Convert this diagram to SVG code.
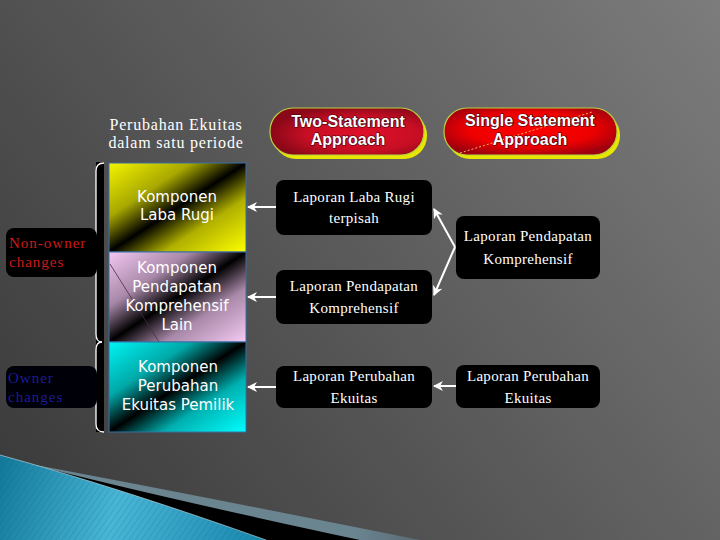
<svg xmlns="http://www.w3.org/2000/svg" width="720" height="540" viewBox="0 0 720 540">
  <defs>
    <linearGradient id="bg" gradientUnits="userSpaceOnUse" x1="0" y1="540" x2="720" y2="0">
      <stop offset="0" stop-color="#383838"/>
      <stop offset="1" stop-color="#7c7c7c"/>
    </linearGradient>
    <linearGradient id="gYellow" x1="0" y1="0" x2="1" y2="1">
      <stop offset="0" stop-color="#f4f400"/>
      <stop offset="0.3" stop-color="#a8a800"/>
      <stop offset="0.5" stop-color="#000000"/>
      <stop offset="0.7" stop-color="#b0b000"/>
      <stop offset="1" stop-color="#ffff00"/>
    </linearGradient>
    <linearGradient id="gPink" x1="0" y1="0" x2="1" y2="1">
      <stop offset="0" stop-color="#f2c8f2"/>
      <stop offset="0.3" stop-color="#a888a8"/>
      <stop offset="0.5" stop-color="#000000"/>
      <stop offset="0.7" stop-color="#a888a8"/>
      <stop offset="1" stop-color="#f4cbf4"/>
    </linearGradient>
    <linearGradient id="gCyan" x1="0" y1="0" x2="1" y2="1">
      <stop offset="0" stop-color="#00f4f4"/>
      <stop offset="0.3" stop-color="#00a8a8"/>
      <stop offset="0.5" stop-color="#000000"/>
      <stop offset="0.7" stop-color="#00b0b0"/>
      <stop offset="1" stop-color="#00ffff"/>
    </linearGradient>
    <radialGradient id="gRed1" cx="0.6" cy="0.55" r="0.6">
      <stop offset="0" stop-color="#e0102a"/>
      <stop offset="0.6" stop-color="#c80e24"/>
      <stop offset="1" stop-color="#8a0818"/>
    </radialGradient>
    <radialGradient id="gRed2" cx="0.5" cy="0.45" r="0.6">
      <stop offset="0" stop-color="#ff0000"/>
      <stop offset="0.6" stop-color="#ee0000"/>
      <stop offset="1" stop-color="#9a0010"/>
    </radialGradient>
    <linearGradient id="gBlue" gradientUnits="userSpaceOnUse" x1="0" y1="470" x2="260" y2="540">
      <stop offset="0" stop-color="#137a9c"/>
      <stop offset="0.45" stop-color="#49b6d6"/>
      <stop offset="1" stop-color="#1a88ae"/>
    </linearGradient>
    <linearGradient id="gBand" gradientUnits="userSpaceOnUse" x1="100" y1="0" x2="420" y2="0">
      <stop offset="0" stop-color="#6a8490"/>
      <stop offset="0.8" stop-color="#6a8490"/>
      <stop offset="1" stop-color="#5a6a72"/>
    </linearGradient>
    <pattern id="stripes" patternUnits="userSpaceOnUse" width="5" height="5" patternTransform="rotate(35)">
      <rect width="5" height="5" fill="none"/>
      <line x1="0" y1="0" x2="0" y2="5" stroke="#0a5a78" stroke-width="1" stroke-opacity="0.35"/>
    </pattern>
    <marker id="ah" viewBox="0 0 10 10" refX="9" refY="5" markerWidth="5" markerHeight="5" orient="auto">
      <path d="M0,0 L10,5 L0,10 L3,5 Z" fill="#ffffff"/>
    </marker>
    <style>
      .komp { stroke: #3a6ea5; stroke-width: 1; }
      .ktxt { font-family: "DejaVu Sans", sans-serif; font-size: 15px; fill: #ffffff; text-anchor: middle; }
      .lap { fill: #000000; }
      .ltxt { font-family: "Liberation Serif", serif; font-size: 15px; fill: #ffffff; text-anchor: middle; letter-spacing: 0.3px; }
      .ptxt { font-family: "Liberation Sans", sans-serif; font-size: 16px; font-weight: bold; fill: #ffffff; text-anchor: middle; stroke: #3a0008; stroke-width: 1.2px; paint-order: stroke; }
      .pill { stroke: #b8d040; stroke-width: 1.2; }
      .shadow { fill: #e6e600; }
      .conn { stroke: #ffffff; stroke-width: 2; fill: none; marker-end: url(#ah); }
      .brace { stroke: #ffffff; stroke-width: 1.3; fill: none; }
    </style>
  </defs>

  <!-- background -->
  <rect x="0" y="0" width="720" height="540" fill="url(#bg)"/>
  <g id="swoosh">
    <path d="M30,464 Q180,492 420,540 L0,540 Z" fill="url(#gBand)"/>
    <path d="M30,464 Q150,495 360,540 L0,540 Z" fill="#000000"/>
    <path d="M0,455 Q120,488 266,540 L0,540 Z" fill="url(#gBlue)"/>
    <path d="M0,455 Q120,488 266,540 L0,540 Z" fill="url(#stripes)"/>
    <path d="M0,455 Q120,488 266,540" fill="none" stroke="#cfeaf2" stroke-width="0.8" stroke-opacity="0.7"/>
  </g>

  <!-- heading -->
  <g id="heading">
    <text x="176" y="130" font-family="Liberation Serif, serif" font-size="16" fill="#ffffff" text-anchor="middle" letter-spacing="0.8">Perubahan Ekuitas</text>
    <text x="176" y="148" font-family="Liberation Serif, serif" font-size="16" fill="#ffffff" text-anchor="middle" letter-spacing="0.8">dalam satu periode</text>
  </g>

  <!-- bracket -->
  <g id="bracket">
    <rect x="96" y="162" width="8" height="270" fill="#000000"/>
    <path class="brace" d="M104,163 Q96,163 96,171 L96,243 Q96,250 91,251 Q96,252 96,259 L96,334 Q96,342 102,342"/>
    <path class="brace" d="M102,342 Q96,342 96,350 L96,380 Q96,386 91,387 Q96,388 96,394 L96,424 Q96,432 104,432"/>
  </g>

  <g id="nonowner">
    <rect x="6" y="228" width="91" height="49" rx="8" fill="#000000"/>
    <text x="9" y="248" font-family="Liberation Serif, serif" font-size="15" fill="#cc1a1a" letter-spacing="1">Non-owner</text>
    <text x="9" y="267" font-family="Liberation Serif, serif" font-size="15" fill="#cc1a1a" letter-spacing="1">changes</text>
  </g>
  <g id="owner">
    <rect x="6" y="366" width="91" height="42" rx="8" fill="#000008"/>
    <text x="8" y="383" font-family="Liberation Serif, serif" font-size="15" fill="#1c1c9c" letter-spacing="1">Owner</text>
    <text x="8" y="402" font-family="Liberation Serif, serif" font-size="15" fill="#1c1c9c" letter-spacing="1">changes</text>
  </g>

  <!-- Komponen boxes -->
  <g id="komponen-laba-rugi">
    <rect class="komp" x="109" y="163" width="137" height="89" fill="url(#gYellow)"/>
    <text class="ktxt" x="177" y="202">Komponen</text>
    <text class="ktxt" x="177" y="220">Laba Rugi</text>
  </g>
  <g id="komponen-pendapatan">
    <rect class="komp" x="109" y="252" width="137" height="90" fill="url(#gPink)"/>
    <line x1="110" y1="264" x2="159" y2="342" stroke="#4a2a4a" stroke-width="0.8"/>
    <text class="ktxt" x="177" y="273">Komponen</text>
    <text class="ktxt" x="177" y="292">Pendapatan</text>
    <text class="ktxt" x="177" y="311">Komprehensif</text>
    <text class="ktxt" x="177" y="330">Lain</text>
  </g>
  <g id="komponen-ekuitas">
    <rect class="komp" x="109" y="342" width="137" height="90" fill="url(#gCyan)"/>
    <text class="ktxt" x="178" y="372">Komponen</text>
    <text class="ktxt" x="178" y="391">Perubahan</text>
    <text class="ktxt" x="178" y="410">Ekuitas Pemilik</text>
  </g>

  <!-- Pills -->
  <g id="two-statement">
    <rect class="shadow" x="273" y="112" width="154" height="47" rx="23"/>
    <rect class="pill" x="270" y="108" width="154" height="47" rx="23" fill="url(#gRed1)"/>
    <text class="ptxt" x="348" y="127">Two-Statement</text>
    <text class="ptxt" x="348" y="145">Approach</text>
  </g>
  <g id="single-statement">
    <rect class="shadow" x="447" y="112" width="173" height="47" rx="23"/>
    <rect class="pill" x="444" y="108" width="173" height="47" rx="23" fill="url(#gRed2)"/>
    <line x1="460" y1="153" x2="592" y2="112" stroke="#ffe070" stroke-width="0.8" stroke-dasharray="2,2"/>
    <text class="ptxt" x="530" y="126">Single Statement</text>
    <text class="ptxt" x="530" y="145">Approach</text>
  </g>

  <!-- Laporan boxes -->
  <g id="lap-laba-rugi">
    <rect class="lap" x="276" y="180" width="156" height="55" rx="8"/>
    <text class="ltxt" x="354" y="202">Laporan Laba Rugi</text>
    <text class="ltxt" x="354" y="223">terpisah</text>
  </g>
  <g id="lap-pendapatan-single">
    <rect class="lap" x="456" y="216" width="144" height="63" rx="8"/>
    <text class="ltxt" x="528" y="241">Laporan Pendapatan</text>
    <text class="ltxt" x="528" y="264">Komprehensif</text>
  </g>
  <g id="lap-pendapatan-two">
    <rect class="lap" x="276" y="270" width="156" height="54" rx="8"/>
    <text class="ltxt" x="354" y="291">Laporan Pendapatan</text>
    <text class="ltxt" x="354" y="313">Komprehensif</text>
  </g>
  <g id="lap-ekuitas-two">
    <rect class="lap" x="276" y="366" width="156" height="42" rx="8"/>
    <text class="ltxt" x="354" y="381">Laporan Perubahan</text>
    <text class="ltxt" x="354" y="403">Ekuitas</text>
  </g>
  <g id="lap-ekuitas-single">
    <rect class="lap" x="456" y="365" width="144" height="43" rx="8"/>
    <text class="ltxt" x="528" y="381">Laporan Perubahan</text>
    <text class="ltxt" x="528" y="403">Ekuitas</text>
  </g>

  <!-- connectors -->
  <g id="connectors">
    <line class="conn" x1="276" y1="207" x2="248" y2="207"/>
    <line class="conn" x1="276" y1="297" x2="248" y2="297"/>
    <line class="conn" x1="276" y1="387" x2="248" y2="387"/>
    <line class="conn" x1="456" y1="386" x2="434" y2="386"/>
    <line class="conn" x1="455" y1="247" x2="434" y2="209"/>
    <line class="conn" x1="455" y1="247" x2="434" y2="295"/>
  </g>
</svg>
